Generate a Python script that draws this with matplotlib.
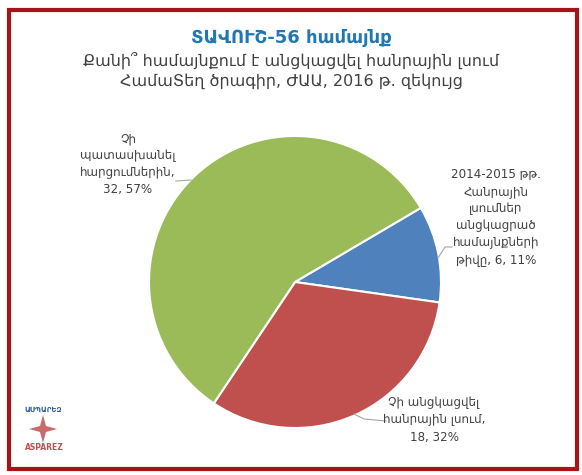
import matplotlib
matplotlib.use('Agg')
from matplotlib import pyplot as plt
from matplotlib.patches import Rectangle, Polygon

plt.rcParams['font.family'] = ['DejaVu Sans']

title = 'ՏԱՎՈՒՇ-56 համայնք'
subtitle = 'Քանի՞ համայնքում է անցկացվել հանրային լսում\nՀամաՏեղ ծրագիր, ԺԱԱ, 2016 թ. զեկույց'

categories = ['2014-2015 թթ.\nՀանրային\nլսումներ\nանցկացրած\nհամայնքների\nթիվը',
              'Չի անցկացվել\nհանրային լսում',
              'Չի\nպատասխանել\nհարցումներին']
values = [6, 18, 32]
colors = ['#4F81BD', '#C0504D', '#9BBB59']

W, H = 582, 475
fig = plt.figure(figsize=(W / 100, H / 100), dpi=100)

def fx(px):
    return px / W

def fy(py):
    return 1 - py / H

# red frame
fig.patches.append(Rectangle((fx(9), fy(469)), fx(568), 459 / H, transform=fig.transFigure,
                             fill=False, edgecolor='#A8131A', linewidth=3))

fig.text(0.5, fy(38), title, ha='center', va='center', color='#1F78B4',
         fontsize=13, fontweight='bold')
fig.text(0.5, fy(71), subtitle, ha='center', va='center', color='#404040',
         fontsize=11.5, linespacing=1.25)

# pie
r = 146
cx, cy = 295, 282
ax = fig.add_axes([fx(cx - r), fy(cy + r), 2 * r / W, 2 * r / H])
wedges, _ = ax.pie(values, colors=colors, startangle=30.5, counterclock=False,
                   wedgeprops=dict(edgecolor='white', linewidth=1.5))
ax.set_xlim(-1, 1)
ax.set_ylim(-1, 1)
ax.set_aspect('equal')
ax.axis('off')

total = sum(values)
labels = []
for c, v in zip(categories, values):
    sep = ',\n' if c.startswith('Չի') else ', '
    labels.append('%s%s%d, %d%%' % (c, sep, v, round(v * 100 / total)))

lab_pos = [(496, 217), (434, 420), (128, 164)]
line_pts = [[(438, 258), (445, 247), (452, 247)],
            [(354, 414), (364, 419), (386, 421)],
            [(191, 180), (176, 181)]]
for lab, (px, py) in zip(labels, lab_pos):
    fig.text(fx(px), fy(py), lab, ha='center', va='center', color='#404040',
             fontsize=8.6, linespacing=1.4)
for pts in line_pts:
    fig.lines.append(plt.Line2D([fx(p[0]) for p in pts], [fy(p[1]) for p in pts],
                                transform=fig.transFigure, color='#A6A6A6', linewidth=0.8))

# logo
fig.text(fx(43), fy(410), 'ԱՍՊԱՐԵԶ', ha='center', va='center', color='#2E5C9A',
         fontsize=5, fontweight='bold')
sx, sy = 43, 429
star = [(sx, sy - 14), (sx + 3, sy - 3), (sx + 14, sy), (sx + 3, sy + 3),
        (sx, sy + 14), (sx - 3, sy + 3), (sx - 14, sy), (sx - 3, sy - 3)]
fig.patches.append(Polygon([(fx(a), fy(b)) for a, b in star], closed=True,
                           transform=fig.transFigure, facecolor='#C96B6B', edgecolor='none'))
fig.text(fx(44), fy(448), 'ASPAREZ', ha='center', va='center', color='#C0504D',
         fontsize=5.5, fontweight='bold')

fig.savefig('out.png', dpi=100)
